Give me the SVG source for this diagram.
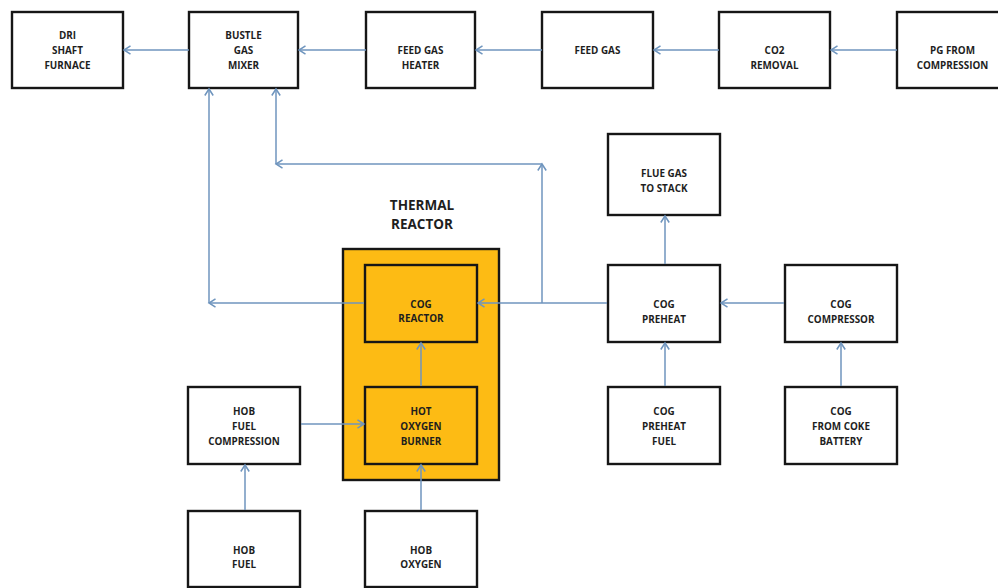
<svg xmlns="http://www.w3.org/2000/svg" width="998" height="588" viewBox="0 0 998 588">
<defs>
<style>
.box{fill:#fff;stroke:#161616;stroke-width:2.4}
.orange{fill:#FDBB14;stroke:#161616;stroke-width:2.4}
.inner{fill:#FDBB14;stroke:#161616;stroke-width:2.4}
.t{font-family:"Open Sans","Liberation Sans",sans-serif;font-weight:700;font-size:9.9px;fill:#1e1e1e;text-anchor:middle}
.title{font-family:"Open Sans","Liberation Sans",sans-serif;font-weight:700;font-size:13.5px;fill:#1e1e1e;text-anchor:middle}
.c{fill:none;stroke:#6F95BE;stroke-width:1.5;marker-end:url(#arr)}
</style>
<marker id="arr" markerUnits="userSpaceOnUse" markerWidth="10" markerHeight="12" refX="7" refY="5" orient="auto" viewBox="0 0 10 10">
<path d="M0.5,0.8 L7,5 L0.5,9.2" fill="none" stroke="#6F95BE" stroke-width="1.5"/>
</marker>
</defs>
<rect width="998" height="588" fill="#fff"/>

<g id="dri">
<rect class="box" x="12" y="12" width="111" height="76"/>
<text class="t" x="67.5" y="38.5">DRI</text>
<text class="t" x="67.5" y="53.5">SHAFT</text>
<text class="t" x="67.5" y="68.5">FURNACE</text>
</g>
<g id="bustle">
<rect class="box" x="189" y="12" width="109" height="76"/>
<text class="t" x="243.5" y="38.5">BUSTLE</text>
<text class="t" x="243.5" y="53.5">GAS</text>
<text class="t" x="243.5" y="68.5">MIXER</text>
</g>
<g id="feedgasheater">
<rect class="box" x="366" y="12" width="109" height="76"/>
<text class="t" x="420.5" y="53.5">FEED GAS</text>
<text class="t" x="420.5" y="68.5">HEATER</text>
</g>
<g id="feedgas">
<rect class="box" x="542" y="12" width="111" height="76"/>
<text class="t" x="597.5" y="53.5">FEED GAS</text>
</g>
<g id="co2">
<rect class="box" x="719" y="12" width="111" height="76"/>
<text class="t" x="774.5" y="53.5">CO2</text>
<text class="t" x="774.5" y="68.5">REMOVAL</text>
</g>
<g id="pg">
<rect class="box" x="897" y="12" width="111" height="76"/>
<text class="t" x="952.5" y="53.5">PG FROM</text>
<text class="t" x="952.5" y="68.5">COMPRESSION</text>
</g>

<g id="thermalreactor">
<text class="title" x="422" y="209.5">THERMAL</text>
<text class="title" x="422" y="228.5">REACTOR</text>
<rect class="orange" x="343" y="249" width="156" height="231"/>
</g>
<g id="cogreactor">
<rect class="inner" x="365" y="265" width="112" height="77"/>
<text class="t" x="421" y="307.5">COG</text>
<text class="t" x="421" y="321.5">REACTOR</text>
</g>
<g id="hob">
<rect class="inner" x="365" y="387" width="112" height="77"/>
<text class="t" x="421" y="414.5">HOT</text>
<text class="t" x="421" y="429.5">OXYGEN</text>
<text class="t" x="421" y="444.5">BURNER</text>
</g>
<g id="hobfuelcomp">
<rect class="box" x="188" y="387" width="112" height="77"/>
<text class="t" x="244" y="414.5">HOB</text>
<text class="t" x="244" y="429.5">FUEL</text>
<text class="t" x="244" y="444.5">COMPRESSION</text>
</g>
<g id="hobfuel">
<rect class="box" x="188" y="511" width="112" height="76"/>
<text class="t" x="244" y="553.5">HOB</text>
<text class="t" x="244" y="567.5">FUEL</text>
</g>
<g id="hoboxygen">
<rect class="box" x="365" y="511" width="112" height="76"/>
<text class="t" x="421" y="553.5">HOB</text>
<text class="t" x="421" y="567.5">OXYGEN</text>
</g>
<g id="flue">
<rect class="box" x="608" y="134" width="112" height="81"/>
<text class="t" x="664" y="176.5">FLUE GAS</text>
<text class="t" x="664" y="191.5">TO STACK</text>
</g>
<g id="cogpreheat">
<rect class="box" x="608" y="265" width="112" height="77"/>
<text class="t" x="664" y="307.5">COG</text>
<text class="t" x="664" y="322.5">PREHEAT</text>
</g>
<g id="cogcompressor">
<rect class="box" x="785" y="265" width="112" height="77"/>
<text class="t" x="841" y="307.5">COG</text>
<text class="t" x="841" y="322.5">COMPRESSOR</text>
</g>
<g id="cogpreheatfuel">
<rect class="box" x="608" y="387" width="112" height="77"/>
<text class="t" x="664" y="414.5">COG</text>
<text class="t" x="664" y="429.5">PREHEAT</text>
<text class="t" x="664" y="444.5">FUEL</text>
</g>
<g id="cogcoke">
<rect class="box" x="785" y="387" width="112" height="77"/>
<text class="t" x="841" y="414.5">COG</text>
<text class="t" x="841" y="429.5">FROM COKE</text>
<text class="t" x="841" y="444.5">BATTERY</text>
</g>

<g id="connectors">
<path class="c" d="M189,50 H124"/>
<path class="c" d="M366,50 H299"/>
<path class="c" d="M542,50 H476"/>
<path class="c" d="M719,50 H654"/>
<path class="c" d="M897,50 H831"/>
<path class="c" d="M364,303 H209"/>
<path class="c" d="M209,303 V89"/>
<path class="c" d="M607,303 H478"/>
<path class="c" d="M542,303 V164"/>
<path class="c" d="M542,164 H276"/>
<path class="c" d="M276,164 V89"/>
<path class="c" d="M421,386 V343"/>
<path class="c" d="M301,424 H364"/>
<path class="c" d="M245,510 V465"/>
<path class="c" d="M421,510 V465"/>
<path class="c" d="M665,264 V216"/>
<path class="c" d="M784,303 H721"/>
<path class="c" d="M665,386 V343"/>
<path class="c" d="M841,386 V343"/>
</g>
</svg>
